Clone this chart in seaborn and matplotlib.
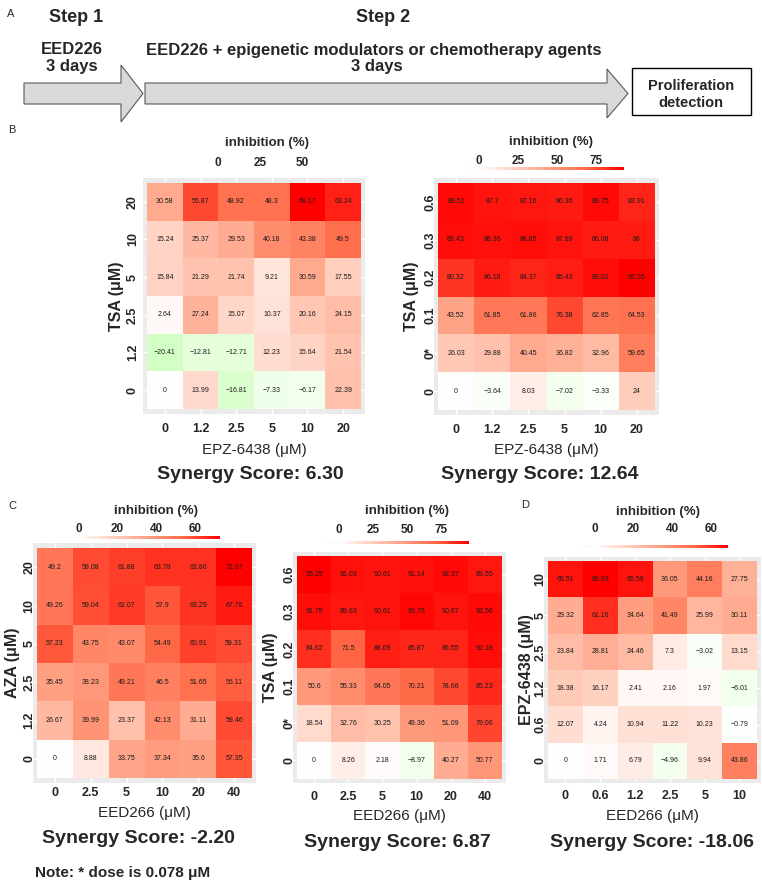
import numpy as np
import pandas as pd
import matplotlib
matplotlib.use("Agg")
import matplotlib.pyplot as plt
import seaborn as sns
from matplotlib.colors import LinearSegmentedColormap, Normalize
from matplotlib.patches import Polygon, Rectangle

sns.set_theme(style="white")
plt.rcParams['font.family'] = ['Liberation Sans', 'DejaVu Sans']

# ---- data -------------------------------------------------------------------
b_cols = ["0", "1.2", "2.5", "5", "10", "20"]
b1_rows = ["20", "10", "5", "2.5", "1.2", "0"]
b1_vals = [[30.58, 56.87, 48.92, 48.3, 69.17, 63.24],
           [15.24, 25.37, 29.53, 40.18, 43.38, 49.5],
           [15.84, 21.29, 21.74, 9.21, 30.59, 17.55],
           [2.64, 27.24, 15.07, 10.37, 20.16, 24.15],
           [-20.41, -12.81, -12.71, 12.23, 15.64, 21.54],
           [0, 13.99, -16.81, -7.33, -6.17, 22.39]]

tsa_rows = ["0.6", "0.3", "0.2", "0.1", "0*", "0"]
b2_vals = [[89.51, 87.7, 87.16, 86.36, 89.75, 83.91],
           [89.43, 88.36, 88.85, 87.89, 86.08, 86],
           [80.32, 86.18, 84.37, 85.43, 89.02, 92.35],
           [43.52, 61.85, 61.86, 76.38, 62.85, 64.53],
           [26.03, 29.88, 40.45, 36.82, 32.96, 59.65],
           [0, -3.64, 8.03, -7.02, -3.33, 24]]

c_cols = ["0", "2.5", "5", "10", "20", "40"]
c1_rows = ["20", "10", "5", "2.5", "1.2", "0"]
c1_vals = [[49.2, 59.08, 61.88, 63.78, 63.86, 72.67],
           [49.26, 59.04, 62.07, 57.9, 63.29, 67.76],
           [57.23, 43.75, 43.07, 54.49, 60.91, 59.31],
           [35.45, 38.23, 49.21, 46.5, 51.65, 56.11],
           [26.67, 39.99, 23.37, 42.13, 31.11, 59.46],
           [0, 8.88, 33.75, 37.34, 35.6, 57.35]]

c2_vals = [[95.25, 91.03, 90.61, 91.14, 92.37, 89.55],
           [91.75, 89.63, 90.61, 93.76, 90.67, 92.56],
           [84.62, 71.5, 88.09, 85.87, 86.55, 92.18],
           [50.6, 55.33, 64.05, 70.21, 78.66, 85.23],
           [18.54, 32.76, 30.25, 49.36, 51.09, 79.06],
           [0, 8.26, 2.18, -8.97, 40.27, 50.77]]

d_cols = ["0", "0.6", "1.2", "2.5", "5", "10"]
d_rows = ["10", "5", "2.5", "1.2", "0.6", "0"]
d_vals = [[65.51, 68.93, 65.59, 36.05, 44.16, 27.75],
          [29.32, 61.16, 34.64, 41.49, 25.99, 30.11],
          [23.84, 28.81, 24.46, 7.3, -3.02, 13.15],
          [18.38, 16.17, 2.41, 2.16, 1.97, -6.01],
          [12.07, 4.24, 10.94, 11.22, 10.23, -0.79],
          [0, 1.71, 6.79, -4.96, 9.94, 43.86]]

ticks_25 = [0, 25, 50, 75]
ticks_20 = [0, 20, 40, 60]
scores = ["6.30", "12.64", "-2.20", "6.87", "-18.06"]

# green - white - red, roughly like ggplot's Lab interpolation
cmap = LinearSegmentedColormap.from_list(
    "gwr", ["#00FF00", "#7DFF64", "#B1FF9A", "#DBFFCD", "#FFFFFF",
            "#FFCFBE", "#FF9E81", "#FF6846", "#FF0000"])

# ---- figure -----------------------------------------------------------------
W, H = 762, 888
fig = plt.figure(figsize=(W / 100, H / 100), dpi=100)


def box(x0, y0, x1, y1):
    return [x0 / W, 1 - y1 / H, (x1 - x0) / W, (y1 - y0) / H]


bg = fig.add_axes([0, 0, 1, 1])
bg.set_xlim(0, W)
bg.set_ylim(H, 0)
bg.axis('off')

# panel A: workflow
grey_fill, grey_edge = "#D9D9D9", "#595959"
bg.add_patch(Polygon([(24, 83), (121, 83), (121, 65), (143, 93.5), (121, 122),
                      (121, 104), (24, 104)], fc=grey_fill, ec=grey_edge, lw=0.8))
bg.add_patch(Polygon([(145, 83), (607, 83), (607, 69), (628, 93.5), (607, 118),
                      (607, 104), (145, 104)], fc=grey_fill, ec=grey_edge, lw=0.8))
bg.add_patch(Rectangle((632, 68), 119, 47, fc="white", ec="black", lw=1))
bg.text(7, 14, "A", fontsize=8, va='center')
bg.text(76, 17, "Step 1", fontsize=13, fontweight='bold', ha='center', va='center')
bg.text(383, 17, "Step 2", fontsize=13, fontweight='bold', ha='center', va='center')
bg.text(72, 50, "EED226", fontsize=12, fontweight='bold', ha='center', va='center')
bg.text(72, 67, "3 days", fontsize=12, fontweight='bold', ha='center', va='center')
bg.text(374, 50, "EED226 + epigenetic modulators or chemotherapy agents", fontsize=12,
        fontweight='bold', ha='center', va='center')
bg.text(377, 67, "3 days", fontsize=12, fontweight='bold', ha='center', va='center')
bg.text(691, 86, "Proliferation", fontsize=10.5, fontweight='bold', ha='center', va='center')
bg.text(691, 103, "detection", fontsize=10.5, fontweight='bold', ha='center', va='center')
bg.text(8, 130, "B", fontsize=8, va='center')
bg.text(8, 506, "C", fontsize=8, va='center')
bg.text(521, 505, "D", fontsize=8, va='center')
bg.text(35, 873, "Note: * dose is 0.078 \u03bcM", fontsize=11, fontweight='bold', va='center')


def panel(vals, rows, cols, ylab, xlab, ticks, score, lay, show_bar=True):
    df = pd.DataFrame(vals, index=rows, columns=cols)
    m = np.abs(df.values).max()
    labels = df.map(lambda v: f"{v:g}".replace("-", "\u2212"))

    x0, y0, x1, y1 = lay["cells"]
    px, py = 0.12 * (x1 - x0) / 6, 0.12 * (y1 - y0) / 6
    ax = fig.add_axes(box(x0 - px, y0 - py, x1 + px, y1 + py))
    ax.set_facecolor("#EBEBEB")
    sns.heatmap(df, ax=ax, cmap=cmap, vmin=-m, vmax=m, annot=labels, fmt="",
                cbar=False, annot_kws={"size": 5, "color": "#1a1a1a"})
    ax.set_xlim(-0.12, 6.12)
    ax.set_ylim(6.12, -0.12)
    ax.grid(True, color="white", lw=1)
    ax.set_axisbelow(True)
    ax.set_xticklabels(cols, rotation=0, fontsize=9, fontweight='bold')
    ax.set_yticklabels(rows, rotation=90, va='center', ha='center', fontsize=9, fontweight='bold')
    ax.tick_params(axis='x', length=2, width=0.8, color="#333333", pad=lay["xpad"])
    ax.tick_params(axis='y', length=2, width=0.8, color="#333333", pad=lay["ypad"])

    ax.set_xlabel(xlab, fontsize=11)
    ax.xaxis.set_label_coords((x0 + x1) / 2 / W, 1 - lay["xlab_y"] / H, transform=fig.transFigure)
    ax.xaxis.label.set_va('center')
    ax.set_ylabel(ylab, fontsize=11.5, fontweight='bold')
    ax.yaxis.set_label_coords(lay["ylab_x"] / W, 1 - (y0 + y1) / 2 / H, transform=fig.transFigure)
    ax.yaxis.label.set_va('center')

    # colour legend
    lo, hi = df.values.min(), df.values.max()
    z, s, yb = lay["cb_zero"], lay["cb_scale"], lay["cb_y"]
    cax = fig.add_axes(box(z + lo * s, yb, z + hi * s, yb + 3))
    if show_bar:
        cax.imshow(np.linspace(lo, hi, 256)[None, :], extent=[lo, hi, 0, 1],
                   aspect='auto', cmap=cmap, norm=Normalize(-m, m))
    cax.set_xlim(lo, hi)
    cax.set_ylim(0, 1)
    tk = [t for t in ticks if lo <= t <= hi]
    cax.set_xticks(tk)
    cax.set_xticklabels([str(t) for t in tk], fontsize=8.5, fontweight='bold')
    cax.xaxis.tick_top()
    cax.tick_params(length=0, pad=lay["cb_pad"])
    cax.set_yticks([])
    for sp in cax.spines.values():
        sp.set_visible(False)
    cax.set_facecolor('none')

    tx, ty = lay["title"]
    bg.text(tx, ty, "inhibition (%)", fontsize=9.5, fontweight='bold', ha='center', va='center')
    sx, sy = lay["score"]
    bg.text(sx, sy, "Synergy Score: " + score, fontsize=14, fontweight='bold',
            ha='center', va='center')


lay_b1 = dict(cells=(147, 183, 361, 409), cb_zero=218, cb_scale=1.68, cb_y=170, cb_pad=1,
              title=(267, 143), xpad=5.0, ypad=5.0, xlab_y=450, ylab_x=117, score=(250, 474))
lay_b2 = dict(cells=(438, 183, 655, 410), cb_zero=479, cb_scale=1.56, cb_y=167, cb_pad=0,
              title=(551, 142), xpad=4.5, ypad=0.5, xlab_y=450, ylab_x=411, score=(540, 474))
lay_c1 = dict(cells=(37, 548, 252, 778), cb_zero=79, cb_scale=1.933, cb_y=536, cb_pad=1,
              title=(156, 511), xpad=1.2, ypad=0.5, xlab_y=813, ylab_x=12, score=(138, 838))
lay_c2 = dict(cells=(297, 556, 502, 779), cb_zero=339, cb_scale=1.36, cb_y=541, cb_pad=3.5,
              title=(407, 511), xpad=3.2, ypad=0.5, xlab_y=816, ylab_x=271, score=(397, 842))
lay_d = dict(cells=(548, 561, 757, 779), cb_zero=595, cb_scale=1.933, cb_y=545, cb_pad=7,
             title=(658, 512), xpad=2.5, ypad=0.5, xlab_y=816, ylab_x=527, score=(652, 842))

panel(b1_vals, b1_rows, b_cols, "TSA (\u03bcM)", "EPZ-6438 (\u03bcM)", ticks_25, scores[0], lay_b1, show_bar=False)
panel(b2_vals, tsa_rows, b_cols, "TSA (\u03bcM)", "EPZ-6438 (\u03bcM)", ticks_25, scores[1], lay_b2)
panel(c1_vals, c1_rows, c_cols, "AZA (\u03bcM)", "EED266 (\u03bcM)", ticks_20, scores[2], lay_c1)
panel(c2_vals, tsa_rows, c_cols, "TSA (\u03bcM)", "EED266 (\u03bcM)", ticks_25, scores[3], lay_c2)
panel(d_vals, d_rows, d_cols, "EPZ-6438 (\u03bcM)", "EED266 (\u03bcM)", ticks_20, scores[4], lay_d)

fig.savefig("out.png", dpi=100)
